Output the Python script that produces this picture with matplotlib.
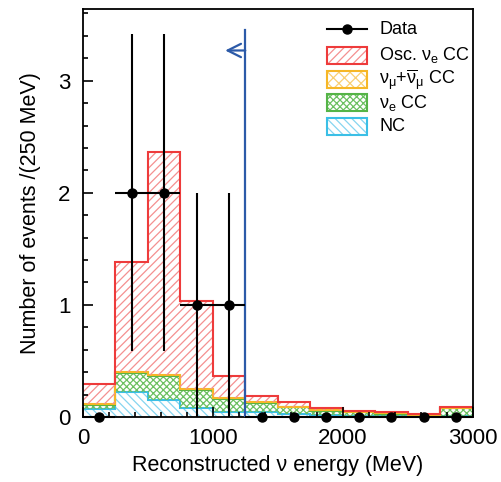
import numpy as np
import matplotlib
matplotlib.use("Agg")
import matplotlib.pyplot as plt
from matplotlib.patches import Rectangle
from matplotlib.ticker import MultipleLocator

plt.rcParams['font.family'] = ['Liberation Sans', 'DejaVu Sans']
plt.rcParams['mathtext.fontset'] = 'custom'
plt.rcParams['mathtext.rm'] = 'Liberation Sans'
plt.rcParams['mathtext.it'] = 'Liberation Sans'
plt.rcParams['mathtext.default'] = 'regular'
plt.rcParams['hatch.linewidth'] = 0.9

# bins of 250 MeV
edges = np.arange(0, 3001, 250)
centers = edges[:-1] + 125

# expected events per bin (not stacked)
nc = [0.068, 0.226, 0.152, 0.077, 0.048, 0.045, 0.027, 0.018, 0.012, 0.009, 0.006, 0.009]
nue_cc = [0.037, 0.168, 0.212, 0.165, 0.110, 0.077, 0.059, 0.039, 0.031, 0.020, 0.011, 0.070]
numu_cc = [0.008, 0.010, 0.010, 0.008, 0.008, 0.008, 0.006, 0.005, 0.004, 0.004, 0.003, 0.004]
osc_nue = [0.182, 0.980, 1.986, 0.784, 0.199, 0.060, 0.039, 0.015, 0.009, 0.009, 0.007, 0.009]

# observed data
data = [0, 2, 2, 1, 1, 0, 0, 0, 0, 0, 0, 0]

# stacking order, bottom first
layers = [
    (nc, 'NC', '#3bbfe6', '#86d5f0', '\\\\\\\\'),
    (nue_cc, r'$\nu_e$ CC', '#55b447', '#6cc062', 'xxxxx'),
    (numu_cc, r'$\nu_\mu$+$\overline{\nu}_\mu$ CC', '#f6b727', '#f9cf73', 'xxx'),
    (osc_nue, r'Osc. $\nu_e$ CC', '#ee3b3b', '#f49090', '////'),
]

fig = plt.figure(figsize=(5.02, 4.82), dpi=100)
ax = fig.add_axes([0.1653, 0.1349, 0.7760, 0.8464])

base = np.zeros(len(nc))
for vals, label, edgec, hatchc, hatch in layers:
    vals = np.array(vals)
    ax.bar(edges[:-1], vals, width=250, bottom=base, align='edge',
           facecolor='none', edgecolor=hatchc, hatch=hatch, linewidth=0)
    base = base + vals
    ax.stairs(base, edges, baseline=None, color=edgec, linewidth=1.5)

data = np.array(data, dtype=float)
ax.errorbar(centers, data, xerr=125, yerr=np.sqrt(data), fmt='o',
            color='black', markersize=6.5, elinewidth=1.5, capsize=0,
            zorder=5, clip_on=False)

blue = '#2c5aa8'
ax.plot([1250, 1250], [0, 3.45], color=blue, linewidth=1.6, zorder=4)
ax.annotate('', xy=(1095, 3.27), xytext=(1250, 3.27),
            arrowprops=dict(arrowstyle='->', color=blue, lw=1.6,
                            shrinkA=0, shrinkB=0, mutation_scale=24))

ax.set_xlim(0, 3000)
ax.set_ylim(0, 3.64)
ax.xaxis.set_major_locator(MultipleLocator(1000))
ax.xaxis.set_minor_locator(MultipleLocator(200))
ax.yaxis.set_major_locator(MultipleLocator(1))
ax.yaxis.set_minor_locator(MultipleLocator(0.2))
ax.tick_params(which='both', direction='in', top=False, right=False,
               labelsize=16, width=1.2)
ax.tick_params(which='major', length=7)
ax.tick_params(which='minor', length=3.5)
ax.tick_params(axis='x', which='major', pad=8)
ax.tick_params(axis='y', which='major', pad=9)
for s in ax.spines.values():
    s.set_linewidth(1.3)

ax.set_xlabel('Reconstructed ν energy (MeV)', fontsize=15.5, labelpad=4)
ax.set_ylabel('Number of events /(250 MeV)', fontsize=15.5, labelpad=12)

# legend drawn by hand in axes coordinates
tr = ax.transAxes
hx0, hw, hh, tx = 0.626, 0.103, 0.042, 0.760
ax.plot([hx0, hx0 + hw], [0.951, 0.951], color='black', lw=1.5,
        transform=tr, clip_on=False)
ax.plot([hx0 + hw / 2], [0.951], 'o', color='black', ms=6.5,
        transform=tr, clip_on=False)
ax.text(tx, 0.951, 'Data', transform=tr, fontsize=13, va='center')
leg_y = [0.887, 0.828, 0.770, 0.713]
for (vals, label, edgec, hatchc, hatch), y in zip(layers[::-1], leg_y):
    ax.add_patch(Rectangle((hx0, y - hh / 2), hw, hh, transform=tr,
                           facecolor='none', edgecolor=hatchc, hatch=hatch,
                           linewidth=0, clip_on=False))
    ax.add_patch(Rectangle((hx0, y - hh / 2), hw, hh, transform=tr,
                           facecolor='none', edgecolor=edgec,
                           linewidth=1.5, clip_on=False))
    ax.text(tx, y, label, transform=tr, fontsize=13, va='center')

fig.savefig('out.png', dpi=100)
